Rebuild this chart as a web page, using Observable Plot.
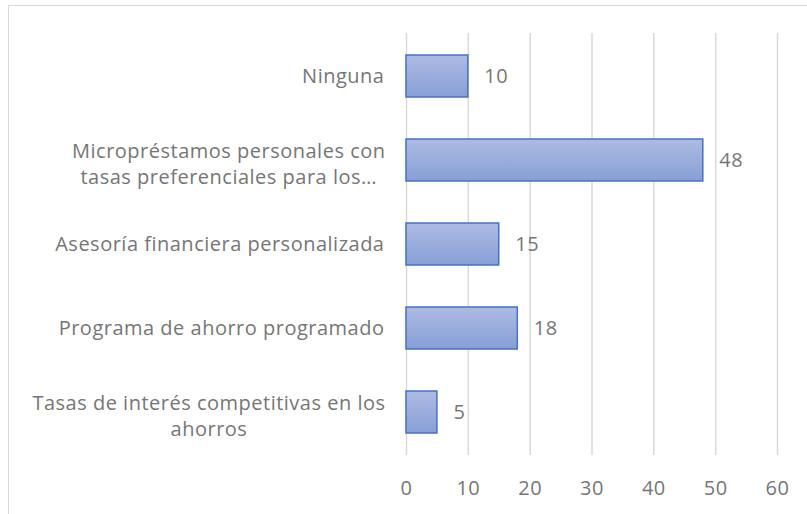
<!DOCTYPE html>
<html>
<head>
<meta charset="utf-8">
<script src="https://cdn.jsdelivr.net/npm/d3@7"></script>
<script src="https://cdn.jsdelivr.net/npm/@observablehq/plot@0.6"></script>
<style>
  html, body { margin: 0; padding: 0; background: #fff; overflow: hidden; }
  #wrap { position: relative; width: 807px; height: 514px; }
  #frame { position: absolute; left: 8px; top: 5px; width: 900px; height: 600px; border: 1px solid #d9d9d9; box-sizing: border-box; }
  #chart { position: absolute; left: 0; top: 0; }
</style>
</head>
<body>
<div id="wrap"><div id="frame"></div><div id="chart"></div></div>
<script>
const categories = [
  "Ninguna",
  "Micropréstamos personales con\ntasas preferenciales para los…",
  "Asesoría financiera personalizada",
  "Programa de ahorro programado",
  "Tasas de interés competitivas en los\nahorros"
];
const values = [10, 48, 15, 18, 5];
const xTicks = [0, 10, 20, 30, 40, 50, 60];

const data = categories.map((c, i) => ({category: c, value: values[i]}));
const FONT = "'Open Sans', Lato, sans-serif";
const FSIZE = 20;
const LS = 0.5;
const grey = "#767676";

function textWidth(s) {
  const ctx = document.createElement("canvas").getContext("2d");
  ctx.font = `${FSIZE}px ${FONT}`;
  ctx.letterSpacing = LS + "px";
  return Math.max(...s.split("\n").map(l => ctx.measureText(l).width));
}
const single = data.filter(d => !d.category.includes("\n"));
const multi = data.filter(d => d.category.includes("\n"));

const defs = () => {
  const g = d3.create("svg:defs");
  const lg = g.append("linearGradient").attr("id", "barGrad").attr("x1", 0).attr("y1", 0).attr("x2", 0).attr("y2", 1);
  lg.append("stop").attr("offset", "0%").attr("stop-color", "#aebbe3");
  lg.append("stop").attr("offset", "100%").attr("stop-color", "#879fd6");
  return g.node();
};

const chart = Plot.plot({
  width: 807,
  height: 514,
  marginLeft: 406,
  marginRight: 30,
  marginTop: 33,
  marginBottom: 59,
  style: {fontFamily: FONT, fontSize: FSIZE + "px", color: grey, background: "transparent", letterSpacing: LS + "px"},
  x: {domain: [0, 60], ticks: xTicks, label: null},
  y: {domain: categories, paddingInner: 0.5, paddingOuter: 0.25, label: null, axis: null},
  marks: [
    defs,
    Plot.gridX(xTicks, {stroke: "#d9d9d9", strokeOpacity: 1, strokeWidth: 1.5}),
    Plot.axisX(xTicks, {tickSize: 0, tickPadding: 25, fill: grey, fontSize: FSIZE, label: null}),
    Plot.barX(data, {x: "value", y: "category", fill: "url(#barGrad)", stroke: "#4472c4", strokeWidth: 1.5}),
    Plot.text(data, {x: "value", y: "category", text: d => String(d.value), textAnchor: "start", dx: 16, fill: grey, fontSize: FSIZE}),
    Plot.text(single, {x: 0, y: "category", text: "category", textAnchor: "end", dx: -22, fill: grey, fontSize: FSIZE}),
    ...multi.map(d => Plot.text([d], {x: 0, y: "category", text: "category", textAnchor: "middle", dx: -21 - textWidth(d.category) / 2, dy: 2, fill: grey, fontSize: FSIZE, lineHeight: 1.28}))
  ]
});
document.getElementById("chart").appendChild(chart);
</script>
</body>
</html>
